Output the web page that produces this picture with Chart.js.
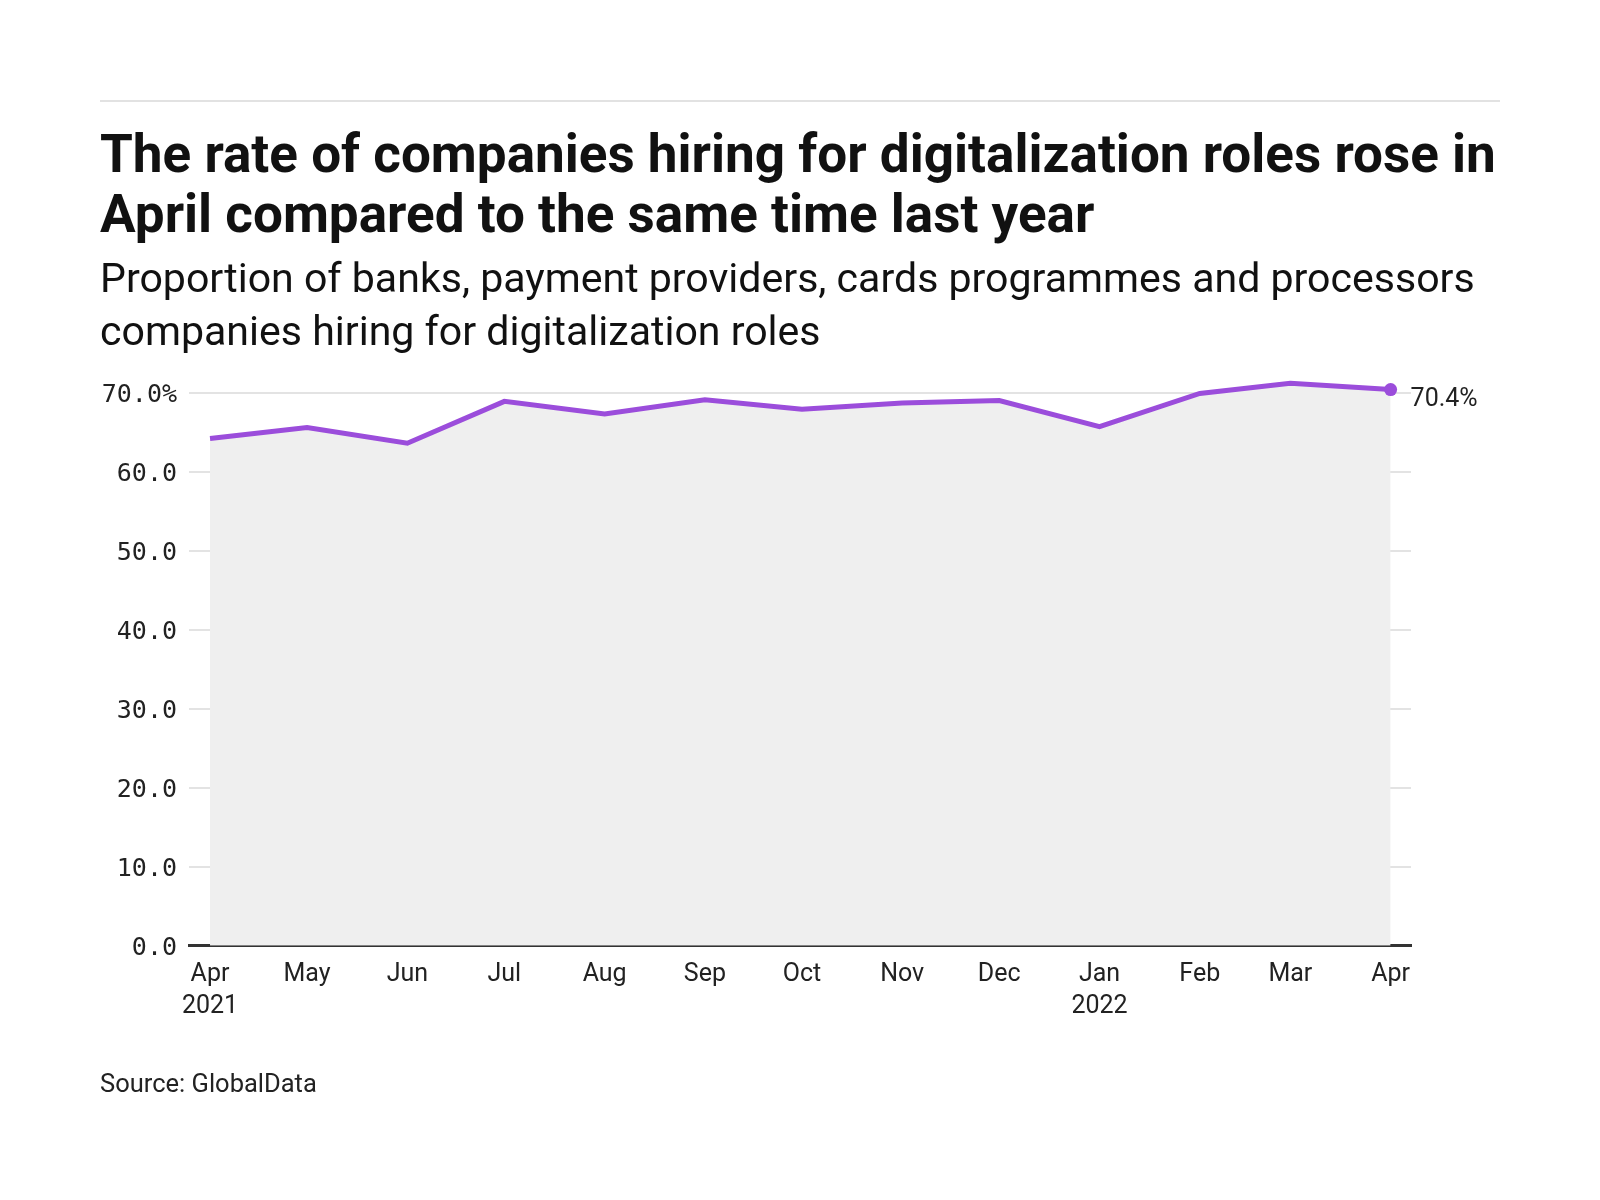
<!DOCTYPE html>
<html>
<head>
<meta charset="utf-8">
<script src="https://cdn.jsdelivr.net/npm/chart.js@4/dist/chart.umd.min.js"></script>
<style>
  html, body { margin:0; padding:0; background:#fff; }
  body { width:1600px; height:1200px; position:relative; overflow:hidden; color:#111; }
  #rule { position:absolute; left:100px; top:100px; width:1400px; height:2px; background:#e2e2e2; }
  .ln { position:absolute; left:100px; white-space:nowrap; line-height:1.2; }
  .t { font-family:Roboto, "Noto Sans", sans-serif; font-weight:700; color:#111; }
  .s { font-family:Roboto, "Noto Sans", sans-serif; font-weight:400; color:#111; }
  .src { font-family:Roboto, "Noto Sans", sans-serif; font-weight:400; color:#222; }
  .bl { display:inline-block; width:0; height:0; vertical-align:baseline; }
  #wrap { position:absolute; left:0; top:0; width:1600px; height:1200px; }
</style>
</head>
<body>
<div id="rule"></div>
<div id="wrap"><canvas id="c" width="1600" height="1200"></canvas></div>
<div class="ln t" id="t1" data-base="171.7">The rate of companies hiring for digitalization roles rose in<span class="bl"></span></div>
<div class="ln t" id="t2" data-base="231.7">April compared to the same time last year<span class="bl"></span></div>
<div class="ln s" id="s1" data-base="291.7">Proportion of banks, payment providers, cards programmes and processors<span class="bl"></span></div>
<div class="ln s" id="s2" data-base="344.7">companies hiring for digitalization roles<span class="bl"></span></div>
<div class="ln src" id="src" data-base="1091.7">Source: GlobalData<span class="bl"></span></div>
<script>
const dates = ['2021-04-01','2021-05-01','2021-06-01','2021-07-01','2021-08-01','2021-09-01','2021-10-01','2021-11-01','2021-12-01','2022-01-01','2022-02-01','2022-03-01','2022-04-01'];
const monthLabels = ['Apr','May','Jun','Jul','Aug','Sep','Oct','Nov','Dec','Jan','Feb','Mar','Apr'];
const yearLabels = ['2021','','','','','','','','','2022','','',''];
const values = [64.2, 65.6, 63.6, 68.9, 67.3, 69.1, 67.9, 68.7, 69.0, 65.7, 69.9, 71.2, 70.4];
const yTicks = [0, 10, 20, 30, 40, 50, 60, 70];
const endLabel = '70.4%';

// ---- text layout: fit widths and place baselines ----
function fitBlock(ids, targetWidth) {
  const first = document.getElementById(ids[0]);
  first.style.fontSize = '40px';
  const w = first.getBoundingClientRect().width;
  const size = 40 * targetWidth / w;
  ids.forEach(id => { document.getElementById(id).style.fontSize = size + 'px'; });
}
function placeBaselines() {
  document.querySelectorAll('.ln').forEach(el => {
    el.style.top = '0px';
    const bl = el.querySelector('.bl');
    const off = bl.getBoundingClientRect().top - el.getBoundingClientRect().top;
    el.style.top = (parseFloat(el.dataset.base) - off) + 'px';
  });
}
function layoutText() {
  fitBlock(['t1','t2'], 1396);
  fitBlock(['s1','s2'], 1375);
  fitBlock(['src'], 217);
  placeBaselines();
}
layoutText();
if (document.fonts && document.fonts.ready) document.fonts.ready.then(layoutText);

// ---- chart ----
const DAY = 86400000;
const t0 = Date.parse(dates[0]);
const xs = dates.map(d => Math.round((Date.parse(d) - t0) / DAY));
const points = xs.map((x, i) => ({ x: x, y: values[i] }));
const lastIdx = values.length - 1;

const endLabelPlugin = {
  id: 'endLabel',
  afterDatasetsDraw(chart) {
    const p = chart.getDatasetMeta(0).data[lastIdx];
    const ctx = chart.ctx;
    ctx.save();
    ctx.font = '25px Roboto, "Noto Sans", sans-serif';
    ctx.fillStyle = '#222';
    ctx.textAlign = 'left';
    ctx.textBaseline = 'alphabetic';
    ctx.fillText(endLabel, p.x + 20, p.y + 16.5);
    ctx.restore();
  }
};

new Chart(document.getElementById('c'), {
  type: 'line',
  data: {
    datasets: [{
      data: points,
      borderColor: '#9b4ddb',
      borderWidth: 5,
      backgroundColor: '#efefef',
      fill: 'origin',
      tension: 0,
      pointRadius: ctx => ctx.dataIndex === lastIdx ? 6.5 : 0,
      pointHoverRadius: 0,
      pointBackgroundColor: '#9b4ddb',
      pointBorderWidth: 0
    }]
  },
  options: {
    responsive: false,
    animation: false,
    events: [],
    layout: { padding: { left: 89, right: 189, top: 376.9, bottom: 174.3 } },
    plugins: { legend: { display: false }, tooltip: { enabled: false } },
    scales: {
      x: {
        type: 'linear',
        min: -6.5,
        max: 371.3,
        afterBuildTicks: axis => { axis.ticks = xs.map(v => ({ value: v })); },
        afterFit: axis => { axis.height = 80; },
        grid: { display: false, drawTicks: false },
        border: { display: true, color: '#333', width: 3 },
        ticks: {
          autoSkip: false,
          maxRotation: 0,
          padding: 13,
          color: '#222',
          font: { family: 'Roboto, "Noto Sans", sans-serif', size: 25, lineHeight: 1.28 },
          callback: function(value) {
            const i = xs.indexOf(value);
            if (i < 0) return '';
            return yearLabels[i] ? [monthLabels[i], yearLabels[i]] : monthLabels[i];
          }
        }
      },
      y: {
        min: 0,
        max: 72,
        afterBuildTicks: axis => { axis.ticks = yTicks.map(v => ({ value: v })); },
        afterFit: axis => { axis.width = 100; },
        grid: { color: '#e3e3e3', lineWidth: 2, drawTicks: false },
        border: { display: false },
        ticks: {
          padding: 12,
          labelOffset: 3,
          color: '#222',
          font: { family: '"DejaVu Sans Mono", monospace', size: 25 },
          callback: v => v === 70 ? '70.0%' : v.toFixed(1)
        }
      }
    }
  },
  plugins: [endLabelPlugin]
});
</script>
</body>
</html>
